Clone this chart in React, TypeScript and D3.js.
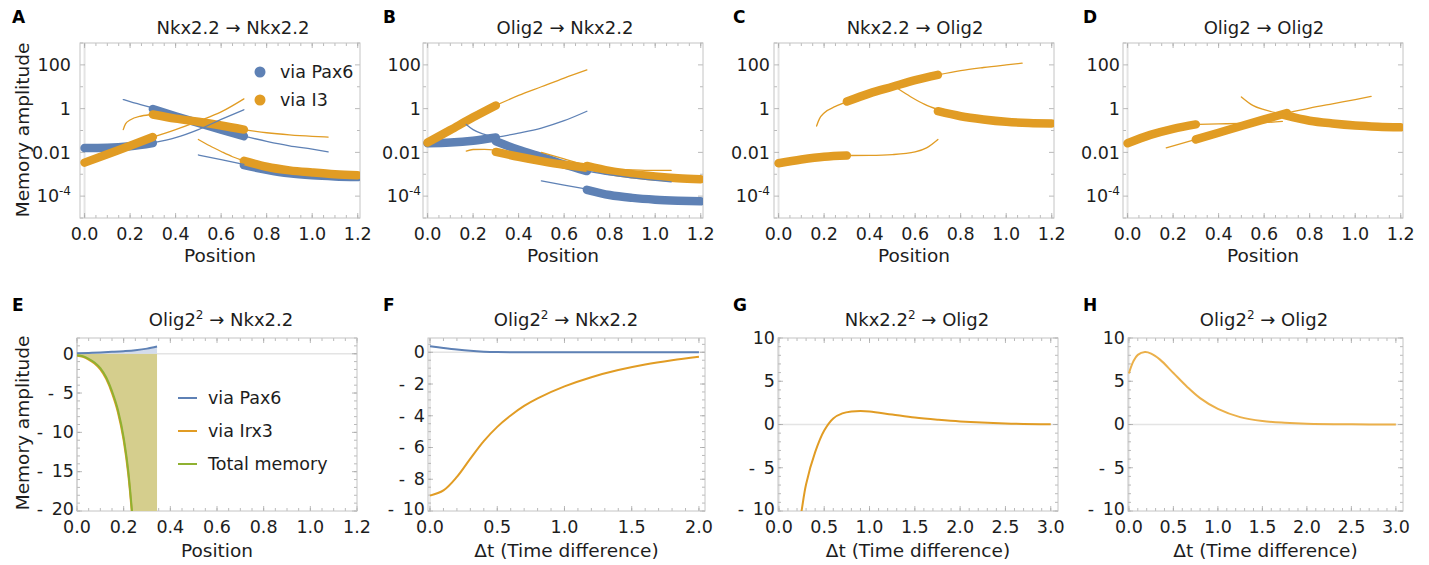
import React, { useEffect, useRef } from 'react';
import * as d3 from 'd3';

type Pt = [number, number];
type Sel = d3.Selection<any, unknown, null, undefined>;

const W = 1429;
const H = 565;
const FONT = "'DejaVu Sans', sans-serif";
const BLUE = '#5E81B5';
const ORANGE = '#E19C24';
const GREEN = '#8FB131';
const PALE_ORANGE = '#EBB04A';
const FRAME = '#C4C4C4';
const TICK = '#A8A8A8';
const ZERO = '#E4E4E4';
const INK = '#1d1d1d';

// ---------- top row: memory amplitude along position (log scale) ----------
const positionTicks = [0, 0.2, 0.4, 0.6, 0.8, 1.0, 1.2];
const logTicks = [1e2, 1, 1e-2, 1e-4];
const logMinor = [1e3, 10, 1e-1, 1e-3, 1e-5];

// A: Nkx2.2 -> Nkx2.2
const nnPax6Thick: Pt[][] = [
  [[0, 0.0158], [0.1, 0.0162], [0.2, 0.019], [0.3, 0.027]],
  [[0.3, 0.95], [0.4, 0.45], [0.5, 0.22], [0.6, 0.11], [0.7, 0.055]],
  [[0.7, 0.0026], [0.8, 0.0016], [0.9, 0.0011], [1.0, 0.00089], [1.1, 0.00079], [1.2, 0.00074]],
];
const nnPax6Thin: Pt[][] = [
  [[0.3, 0.027], [0.4, 0.047], [0.5, 0.11], [0.6, 0.32], [0.7, 0.89]],
  [[0.17, 2.6], [0.2, 2.1], [0.25, 1.5], [0.3, 1.07]],
  [[0.7, 0.055], [0.8, 0.032], [0.9, 0.02], [1.0, 0.014], [1.07, 0.0105]],
  [[0.5, 0.0076], [0.6, 0.0047], [0.7, 0.0028]],
];
const nnI3Thick: Pt[][] = [
  [[0, 0.0034], [0.1, 0.0083], [0.2, 0.02], [0.3, 0.05]],
  [[0.3, 0.54], [0.4, 0.35], [0.5, 0.25], [0.6, 0.17], [0.7, 0.11]],
  [[0.7, 0.0041], [0.8, 0.0022], [0.9, 0.0015], [1.0, 0.0012], [1.1, 0.001], [1.2, 0.00091]],
];
const nnI3Thin: Pt[][] = [
  [[0.3, 0.05], [0.4, 0.11], [0.5, 0.27], [0.6, 0.71], [0.7, 2.8]],
  [[0.17, 0.11], [0.18, 0.2], [0.2, 0.3], [0.25, 0.46], [0.3, 0.54]],
  [[0.7, 0.11], [0.8, 0.079], [0.9, 0.063], [1.0, 0.054], [1.07, 0.05]],
  [[0.5, 0.039], [0.55, 0.02], [0.6, 0.011], [0.65, 0.0063], [0.7, 0.0041]],
];

// B: Olig2 -> Nkx2.2
const onPax6Thick: Pt[][] = [
  [[0, 0.026], [0.1, 0.028], [0.2, 0.034], [0.3, 0.048]],
  [[0.3, 0.032], [0.4, 0.013], [0.5, 0.0063], [0.6, 0.0028], [0.7, 0.0014]],
  [[0.7, 0.000195], [0.8, 0.000112], [0.9, 0.000083], [1.0, 0.000069], [1.1, 0.000062], [1.2, 0.000058]],
];
const onPax6Thin: Pt[][] = [
  [[0.3, 0.048], [0.4, 0.076], [0.5, 0.13], [0.6, 0.28], [0.7, 0.76]],
  [[0.17, 0.19], [0.2, 0.11], [0.25, 0.066], [0.3, 0.047]],
  [[0.7, 0.0014], [0.8, 0.00093], [0.9, 0.00068], [1.0, 0.00052], [1.07, 0.00045]],
  [[0.5, 0.0005], [0.6, 0.00032], [0.7, 0.00021]],
];
const onI3Thick: Pt[][] = [
  [[0, 0.028], [0.1, 0.105], [0.2, 0.4], [0.3, 1.4]],
  [[0.3, 0.0105], [0.4, 0.0063], [0.5, 0.004], [0.6, 0.0027], [0.7, 0.002]],
  [[0.7, 0.0024], [0.8, 0.0014], [0.9, 0.001], [1.0, 0.00079], [1.1, 0.00066], [1.2, 0.00059]],
];
const onI3Thin: Pt[][] = [
  [[0.3, 1.4], [0.4, 4], [0.5, 10], [0.6, 25], [0.7, 59]],
  [[0.17, 0.0115], [0.2, 0.0135], [0.25, 0.0138], [0.3, 0.0126]],
  [[0.7, 0.002], [0.8, 0.0017], [0.9, 0.0016], [1.0, 0.0015], [1.07, 0.0015]],
  [[0.5, 0.01], [0.6, 0.005], [0.7, 0.0025]],
];

// C: Nkx2.2 -> Olig2
const noI3Thick: Pt[][] = [
  [[0, 0.0032], [0.1, 0.0047], [0.2, 0.0063], [0.3, 0.0072]],
  [[0.3, 2.1], [0.4, 5], [0.5, 10], [0.6, 20], [0.7, 35]],
  [[0.7, 0.76], [0.8, 0.45], [0.9, 0.32], [1.0, 0.25], [1.1, 0.22], [1.2, 0.21]],
];
const noI3Thin: Pt[][] = [
  [[0.3, 0.0072], [0.4, 0.0073], [0.5, 0.0079], [0.6, 0.0105], [0.65, 0.016], [0.7, 0.039]],
  [[0.167, 0.16], [0.18, 0.35], [0.2, 0.63], [0.25, 1.26], [0.3, 2.1]],
  [[0.7, 35], [0.8, 55], [0.9, 76], [1.0, 100], [1.07, 120]],
  [[0.52, 8.7], [0.58, 3.5], [0.64, 1.6], [0.7, 0.9]],
];

// D: Olig2 -> Olig2
const ooI3Thick: Pt[][] = [
  [[0, 0.026], [0.1, 0.063], [0.2, 0.12], [0.3, 0.19]],
  [[0.3, 0.039], [0.4, 0.079], [0.5, 0.16], [0.6, 0.32], [0.7, 0.63]],
  [[0.69, 0.5], [0.8, 0.28], [0.9, 0.21], [1.0, 0.17], [1.1, 0.15], [1.2, 0.14]],
];
const ooI3Thin: Pt[][] = [
  [[0.3, 0.19], [0.4, 0.2], [0.5, 0.21], [0.6, 0.23], [0.68, 0.26]],
  [[0.17, 0.016], [0.3, 0.039]],
  [[0.7, 0.63], [0.8, 1.05], [0.9, 1.66], [1.0, 2.6], [1.07, 3.6]],
  [[0.5, 3.4], [0.55, 1.4], [0.6, 0.89], [0.65, 0.66], [0.7, 0.54]],
];

// ---------- bottom row ----------
// E: Olig2^2 -> Nkx2.2 along position
const ePax6: Pt[] = [[0, 0.05], [0.05, 0.1], [0.1, 0.16], [0.15, 0.24], [0.2, 0.33], [0.25, 0.45], [0.3, 0.65], [0.343, 0.92]];
const eIrx3: Pt[] = [[0, -0.25], [0.025, -0.4], [0.05, -0.75], [0.075, -1.25], [0.1, -2.0], [0.125, -3.2], [0.15, -5.0], [0.175, -7.4], [0.2, -11], [0.22, -15.4], [0.235, -20.2], [0.25, -26]];
const eTotal: Pt[] = [[0, -0.2], [0.025, -0.32], [0.05, -0.65], [0.075, -1.12], [0.1, -1.84], [0.125, -3.0], [0.15, -4.76], [0.175, -7.1], [0.2, -10.67], [0.22, -15], [0.235, -19.8], [0.25, -25.5], [0.3, -55], [0.343, -100]];
const eLegend = ['via Pax6', 'via Irx3', 'Total memory'];

// F: Olig2^2 -> Nkx2.2 vs time difference
const fPax6: Pt[] = [[0, 0.38], [0.1, 0.27], [0.2, 0.17], [0.3, 0.09], [0.4, 0.04], [0.5, 0.015], [0.75, 0.002], [1.0, 0], [1.5, 0], [2.0, 0]];
const fIrx3: Pt[] = [[0, -9.03], [0.1, -8.7], [0.2, -7.85], [0.3, -6.7], [0.4, -5.6], [0.5, -4.7], [0.6, -3.98], [0.7, -3.38], [0.8, -2.9], [1.0, -2.15], [1.2, -1.57], [1.4, -1.12], [1.6, -0.77], [1.8, -0.5], [2.0, -0.28]];

// G: Nkx2.2^2 -> Olig2
const gIrx3: Pt[] = [[0.2, -13.2], [0.25, -10], [0.3, -6.9], [0.4, -3.2], [0.5, -0.7], [0.6, 0.7], [0.7, 1.28], [0.8, 1.5], [0.9, 1.55], [1.0, 1.5], [1.25, 1.15], [1.5, 0.8], [1.75, 0.55], [2.0, 0.35], [2.5, 0.12], [3.0, 0.03]];

// H: Olig2^2 -> Olig2
const hIrx3: Pt[] = [[0, 5.9], [0.05, 7.3], [0.1, 8.05], [0.18, 8.37], [0.25, 8.2], [0.35, 7.5], [0.5, 5.95], [0.65, 4.4], [0.8, 3.05], [1.0, 1.8], [1.25, 0.85], [1.5, 0.4], [1.75, 0.2], [2.0, 0.09], [2.5, 0.02], [3.0, 0.0]];

const range = (a: number, b: number, s: number) => d3.range(Math.round((b - a) / s) + 1).map(i => +(a + i * s).toFixed(4));

const topTitles: [string, string, string][] = [
  ['Nkx2.2', '', ' → Nkx2.2'],
  ['Olig2', '', ' → Nkx2.2'],
  ['Nkx2.2', '', ' → Olig2'],
  ['Olig2', '', ' → Olig2'],
];
const bottomTitles: [string, string, string][] = [
  ['Olig2', '2', ' → Nkx2.2'],
  ['Olig2', '2', ' → Nkx2.2'],
  ['Nkx2.2', '2', ' → Olig2'],
  ['Olig2', '2', ' → Olig2'],
];

function title(g: Sel, x: number, y: number, t: [string, string, string]) {
  const el = g.append('text').attr('x', x).attr('y', y).attr('text-anchor', 'middle')
    .style('font-size', '18px').attr('fill', INK);
  el.append('tspan').text(t[0]);
  if (t[1]) el.append('tspan').attr('dy', -7).style('font-size', '12px').text(t[1]);
  el.append('tspan').attr('dy', t[1] ? 7 : 0).text(t[2]);
}

function letter(g: Sel, x: number, y: number, s: string) {
  g.append('text').attr('x', x).attr('y', y).style('font-size', '17px').style('font-weight', 'bold')
    .attr('fill', '#000').text(s);
}

function frame(g: Sel, x: (v: number) => number, y: (v: number) => number,
  box: { l: number; r: number; t: number; b: number },
  xMajor: number[], xMinor: number[], yMajor: number[], yMinor: number[]) {
  const ticks = g.append('g').attr('stroke', TICK).attr('stroke-width', 0.8);
  const xt = (v: number, len: number) => {
    const px = x(v);
    if (px < box.l - 0.5 || px > box.r + 0.5) return;
    ticks.append('line').attr('x1', px).attr('x2', px).attr('y1', box.b).attr('y2', box.b - len);
    ticks.append('line').attr('x1', px).attr('x2', px).attr('y1', box.t).attr('y2', box.t + len);
  };
  const yt = (v: number, len: number) => {
    const py = y(v);
    if (py < box.t - 0.5 || py > box.b + 0.5) return;
    ticks.append('line').attr('y1', py).attr('y2', py).attr('x1', box.l).attr('x2', box.l + len);
    ticks.append('line').attr('y1', py).attr('y2', py).attr('x1', box.r).attr('x2', box.r - len);
  };
  xMajor.forEach(v => xt(v, 5));
  xMinor.forEach(v => xt(v, 3));
  yMajor.forEach(v => yt(v, 5));
  yMinor.forEach(v => yt(v, 3));
  g.append('rect').attr('x', box.l).attr('y', box.t).attr('width', box.r - box.l).attr('height', box.b - box.t)
    .attr('fill', 'none').attr('stroke', FRAME).attr('stroke-width', 1);
}

function clip(svg: Sel, g: Sel, id: string, box: { l: number; r: number; t: number; b: number }) {
  svg.select('defs').append('clipPath').attr('id', id).append('rect')
    .attr('x', box.l).attr('y', box.t).attr('width', box.r - box.l).attr('height', box.b - box.t);
  return g.append('g').attr('clip-path', `url(#${id})`);
}

interface TopPanel {
  letter: string; left: number; titleX: number; labelEnd: number;
  pax6Thick: Pt[][]; pax6Thin: Pt[][]; i3Thick: Pt[][]; i3Thin: Pt[][];
}

const topPanels: TopPanel[] = [
  { letter: 'A', left: 80, titleX: 233, labelEnd: 71, pax6Thick: nnPax6Thick, pax6Thin: nnPax6Thin, i3Thick: nnI3Thick, i3Thin: nnI3Thin },
  { letter: 'B', left: 423, titleX: 565, labelEnd: 421, pax6Thick: onPax6Thick, pax6Thin: onPax6Thin, i3Thick: onI3Thick, i3Thin: onI3Thin },
  { letter: 'C', left: 774, titleX: 915, labelEnd: 770, pax6Thick: [], pax6Thin: [], i3Thick: noI3Thick, i3Thin: noI3Thin },
  { letter: 'D', left: 1123, titleX: 1264, labelEnd: 1120, pax6Thick: [], pax6Thin: [], i3Thick: ooI3Thick, i3Thin: ooI3Thin },
];
const letterX = [12, 383, 733, 1083];

function renderTop(svg: Sel, p: TopPanel, i: number) {
  const box = { l: p.left, r: p.left + 280, t: 43, b: 218 };
  const g = svg.append('g');
  const x = d3.scaleLinear().domain([-0.02, 1.21]).range([box.l, box.r]);
  const y = d3.scaleLog().domain([1e-5, 1e3]).range([box.b, box.t]);

  g.append('line').attr('x1', x(0)).attr('x2', x(0)).attr('y1', box.t).attr('y2', box.b)
    .attr('stroke', ZERO).attr('stroke-width', 2);
  frame(g, x, y, box, positionTicks, range(0, 1.2, 0.05), logTicks, logMinor);

  const line = d3.line<Pt>().x(d => x(d[0])).y(d => y(d[1])).curve(d3.curveMonotoneX);
  const plot = clip(svg, g, `clip-top-${i}`, box);
  const draw = (segs: Pt[][], color: string, w: number) => segs.forEach(s => {
    plot.append('path').attr('d', line(s)!).attr('fill', 'none').attr('stroke', color)
      .attr('stroke-width', w).attr('stroke-linecap', 'round').attr('stroke-linejoin', 'round');
  });
  draw(p.pax6Thick, BLUE, 8.5);
  draw(p.i3Thick, ORANGE, 8.5);
  draw(p.pax6Thin, BLUE, 1.3);
  draw(p.i3Thin, ORANGE, 1.3);

  positionTicks.forEach(v => {
    g.append('text').attr('x', x(v)).attr('y', 240).attr('text-anchor', 'middle')
      .style('font-size', '17.5px').attr('fill', INK).text(v.toFixed(1));
  });
  logTicks.forEach(v => {
    const t = g.append('text').attr('x', p.labelEnd).attr('y', y(v)).attr('dy', '0.36em')
      .attr('text-anchor', 'end').style('font-size', '17.5px').attr('fill', INK);
    if (v === 1e-4) {
      t.append('tspan').text('10');
      t.append('tspan').attr('dy', -7).style('font-size', '12px').text('-4');
    } else {
      t.text(v >= 1 ? String(v) : '0.01');
    }
  });
  g.append('text').attr('x', (box.l + box.r) / 2).attr('y', 262).attr('text-anchor', 'middle')
    .style('font-size', '18.5px').attr('fill', INK).text('Position');
  title(g, p.titleX, 34, topTitles[i]);
  letter(g, letterX[i], 23, p.letter);
}

interface BottomPanel {
  l: number; r: number; xDom: [number, number]; yDom: [number, number];
  xTicks: number[]; xMinor: number[]; yTicks: number[]; yMinor: number[];
  xLabel: string; titleX: number;
}

const bottomPanels: BottomPanel[] = [
  { l: 77, r: 357, xDom: [0, 1.2], yDom: [-20, 2], xTicks: positionTicks, xMinor: range(0, 1.2, 0.05),
    yTicks: [0, -5, -10, -15, -20], yMinor: range(-20, 2, 1), xLabel: 'Position', titleX: 221 },
  { l: 428, r: 705, xDom: [-0.015, 2.045], yDom: [-10, 0.9], xTicks: range(0, 2, 0.5), xMinor: range(0, 2, 0.1),
    yTicks: [0, -2, -4, -6, -8, -10], yMinor: range(-10, 0.5, 0.5), xLabel: 'Δt (Time difference)', titleX: 566 },
  { l: 778, r: 1058, xDom: [-0.01, 3.08], yDom: [-10, 10], xTicks: range(0, 3, 0.5), xMinor: range(0, 3, 0.1),
    yTicks: [10, 5, 0, -5, -10], yMinor: range(-10, 10, 1), xLabel: 'Δt (Time difference)', titleX: 917 },
  { l: 1128, r: 1403, xDom: [-0.01, 3.08], yDom: [-10, 10], xTicks: range(0, 3, 0.5), xMinor: range(0, 3, 0.1),
    yTicks: [10, 5, 0, -5, -10], yMinor: range(-10, 10, 1), xLabel: 'Δt (Time difference)', titleX: 1264 },
];
const bottomLetters = ['E', 'F', 'G', 'H'];

function renderBottom(svg: Sel, p: BottomPanel, i: number) {
  const box = { l: p.l, r: p.r, t: 338, b: 511 };
  const g = svg.append('g');
  const x = d3.scaleLinear().domain(p.xDom).range([box.l, box.r]);
  const y = d3.scaleLinear().domain(p.yDom).range([box.b, box.t]);

  g.append('line').attr('x1', box.l).attr('x2', box.r).attr('y1', y(0)).attr('y2', y(0))
    .attr('stroke', ZERO).attr('stroke-width', 1.5);
  g.append('line').attr('x1', x(0)).attr('x2', x(0)).attr('y1', box.t).attr('y2', box.b)
    .attr('stroke', ZERO).attr('stroke-width', 1.5);
  frame(g, x, y, box, p.xTicks, p.xMinor, p.yTicks, p.yMinor);

  const plot = clip(svg, g, `clip-bot-${i}`, box);
  const curve = i === 0 ? d3.curveMonotoneX : d3.curveCatmullRom.alpha(0.5);
  const line = d3.line<Pt>().x(d => x(d[0])).y(d => y(d[1])).curve(curve);
  const area = d3.area<Pt>().x(d => x(d[0])).y0(y(0)).y1(d => y(d[1])).curve(d3.curveMonotoneX);
  const stroke = (data: Pt[], color: string, w = 2) => plot.append('path').attr('d', line(data)!)
    .attr('fill', 'none').attr('stroke', color).attr('stroke-width', w).attr('stroke-linejoin', 'round');

  if (i === 0) {
    plot.append('path').attr('d', area(eTotal)!).attr('fill', '#D5CE8D');
    plot.append('path').attr('d', area(ePax6)!).attr('fill', '#D3DCEC');
    stroke(ePax6, BLUE);
    stroke(eIrx3, ORANGE);
    stroke(eTotal, GREEN);
    const colors = [BLUE, ORANGE, GREEN];
    eLegend.forEach((s, k) => {
      const ly = 398 + k * 33;
      g.append('line').attr('x1', 178).attr('x2', 197).attr('y1', ly).attr('y2', ly)
        .attr('stroke', colors[k]).attr('stroke-width', 2);
      g.append('text').attr('x', 208).attr('y', ly).attr('dy', '0.36em').style('font-size', '17.5px')
        .attr('fill', INK).text(s);
    });
  } else if (i === 1) {
    stroke(fPax6, BLUE);
    stroke(fIrx3, ORANGE);
  } else if (i === 2) {
    stroke(gIrx3, ORANGE);
  } else {
    stroke(hIrx3, PALE_ORANGE);
  }

  p.xTicks.forEach(v => {
    g.append('text').attr('x', x(v)).attr('y', 533).attr('text-anchor', 'middle')
      .style('font-size', '17.5px').attr('fill', INK).text(v.toFixed(1));
  });
  p.yTicks.forEach(v => {
    // the lowest label sits on the corner; lift it a little so it clears the x labels
    const lift = v === p.yDom[0] ? 2 : 0;
    g.append('text').attr('x', box.l - 3).attr('y', y(v) - lift).attr('dy', '0.33em').attr('text-anchor', 'end')
      .style('font-size', '17.5px').attr('fill', INK).text(v < 0 ? `-\u2002${Math.abs(v)}` : String(v));
  });
  g.append('text').attr('x', (box.l + box.r) / 2).attr('y', 557).attr('text-anchor', 'middle')
    .style('font-size', '18.5px').attr('fill', INK).text(p.xLabel);
  title(g, p.titleX, 326, bottomTitles[i]);
  letter(g, letterX[i], 311, bottomLetters[i]);
}

const App: React.FC = () => {
  const ref = useRef<SVGSVGElement>(null);

  useEffect(() => {
    if (!ref.current) return;
    const svg = d3.select(ref.current) as Sel;
    svg.selectAll('*').remove();
    svg.append('defs');
    svg.append('rect').attr('width', W).attr('height', H).attr('fill', '#fff');

    topPanels.forEach((p, i) => renderTop(svg, p, i));
    bottomPanels.forEach((p, i) => renderBottom(svg, p, i));

    // legend of panel A
    const lg = svg.append('g');
    [['via Pax6', BLUE], ['via I3', ORANGE]].forEach(([s, c], k) => {
      const ly = 72 + k * 28;
      lg.append('circle').attr('cx', 260).attr('cy', ly).attr('r', 5.5).attr('fill', c);
      lg.append('text').attr('x', 280).attr('y', ly).attr('dy', '0.36em').style('font-size', '17.5px')
        .attr('fill', INK).text(s);
    });

    // shared y-axis titles
    [130, 423].forEach(cy => {
      svg.append('text').attr('transform', `translate(22,${cy}) rotate(-90)`).attr('dy', '0.36em')
        .attr('text-anchor', 'middle').style('font-size', '18.5px').attr('fill', INK).text('Memory amplitude');
    });
  }, []);

  return (
    <svg
      ref={ref}
      width={W}
      height={H}
      style={{ position: 'absolute', left: 0, top: 0, fontFamily: FONT }}
    />
  );
};

export default App;
